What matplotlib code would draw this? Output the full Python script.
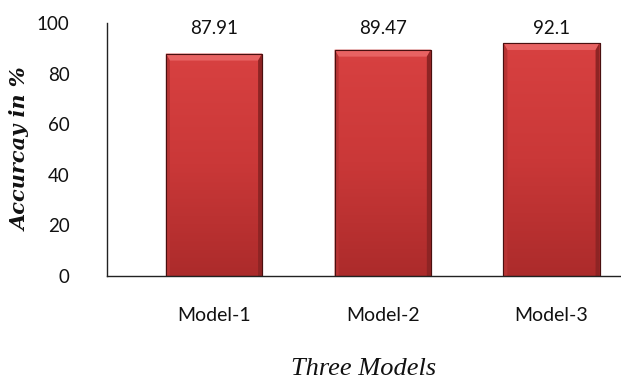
import numpy as np
import matplotlib
matplotlib.use("Agg")
import matplotlib.pyplot as plt
from matplotlib.patches import Polygon
from matplotlib.colors import LinearSegmentedColormap

# Data
models = ["Model-1", "Model-2", "Model-3"]
accuracy = [87.91, 89.47, 92.1]
value_labels = ["87.91", "89.47", "92.1"]
y_ticks = [0, 20, 40, 60, 80, 100]

W, H, DPI = 621, 385, 100
fig = plt.figure(figsize=(W / DPI, H / DPI), dpi=DPI)
ax = fig.add_axes([107 / W, 109 / H, 514 / W, 253 / H])

x = np.arange(len(models))
bar_width = 0.57
ax.set_xlim(-0.634, 2.412)
ax.set_ylim(0, 100)

bars = ax.bar(x, accuracy, width=bar_width, color="#C83636",
              edgecolor="#4a1010", linewidth=0.8, zorder=2)

# Vertical gradient fill for each bar, clipped to the bar shape
grad = LinearSegmentedColormap.from_list("barred", ["#AC2B2B", "#CA3838", "#D84141"])
gimg = np.linspace(0, 1, 256).reshape(-1, 1)
for b in bars:
    x0, y0 = b.get_x(), b.get_y()
    w, h = b.get_width(), b.get_height()
    im = ax.imshow(gimg, cmap=grad, aspect="auto", origin="lower",
                   extent=(x0, x0 + w, y0, y0 + h), zorder=2.1,
                   interpolation="bilinear")
    im.set_clip_path(b)

# Bevel edges, sized in pixels
fig.canvas.draw()
to_px = ax.transData
to_data = ax.transData.inverted()
bev_top, bev_side = 7, 4
for b in bars:
    x0, y0 = b.get_x(), b.get_y()
    x1, y1 = x0 + b.get_width(), y0 + b.get_height()
    (px0, py0), (px1, py1) = to_px.transform([(x0, y0), (x1, y1)])

    def D(pts):
        return to_data.transform(pts)

    top = D([(px0, py1), (px1, py1), (px1 - bev_side, py1 - bev_top),
             (px0 + bev_side, py1 - bev_top)])
    left = D([(px0, py0), (px0, py1), (px0 + bev_side, py1 - bev_top),
              (px0 + bev_side, py0)])
    right = D([(px1, py0), (px1, py1), (px1 - bev_side, py1 - bev_top),
               (px1 - bev_side, py0)])
    ax.add_patch(Polygon(top, closed=True, facecolor="#E86262",
                         edgecolor="none", zorder=2.2))
    ax.add_patch(Polygon(left, closed=True, facecolor="#B83434",
                         edgecolor="none", zorder=2.2))
    ax.add_patch(Polygon(right, closed=True, facecolor="#8E2424",
                         edgecolor="none", zorder=2.2))
    ax.add_patch(Polygon(D([(px0, py0), (px0, py1), (px1, py1), (px1, py0)]),
                         closed=True, facecolor="none", edgecolor="#4a1010",
                         linewidth=0.8, zorder=2.3))

# Value labels at a common height near the top
for xi, lab in zip(x, value_labels):
    ax.text(xi, 98.0, lab, ha="center", va="center", fontsize=13.5,
            family="Lato", color="#111111", zorder=3)

for side in ("top", "right"):
    ax.spines[side].set_visible(False)
for side in ("left", "bottom"):
    ax.spines[side].set_color("#222222")
    ax.spines[side].set_linewidth(1.0)

ax.set_yticks(y_ticks)
ax.set_yticklabels([str(t) for t in y_ticks], family="Lato", fontsize=13.5,
                   color="#111111")
ax.set_xticks(x)
ax.set_xticklabels(models, family="Lato", fontsize=14, color="#111111")
ax.tick_params(axis="y", length=0, pad=27)
ax.tick_params(axis="x", length=0, pad=22)

ax.set_ylabel("Accurcay in %", family="DejaVu Serif", fontsize=15,
              fontweight="bold", fontstyle="italic", color="#111111")
ax.set_xlabel("Three Models", family="Liberation Serif", fontsize=19,
              fontstyle="italic", color="#111111", labelpad=25)
ax.yaxis.set_label_coords(-76 / 514, 0.5)

fig.savefig("out.png", dpi=DPI)
